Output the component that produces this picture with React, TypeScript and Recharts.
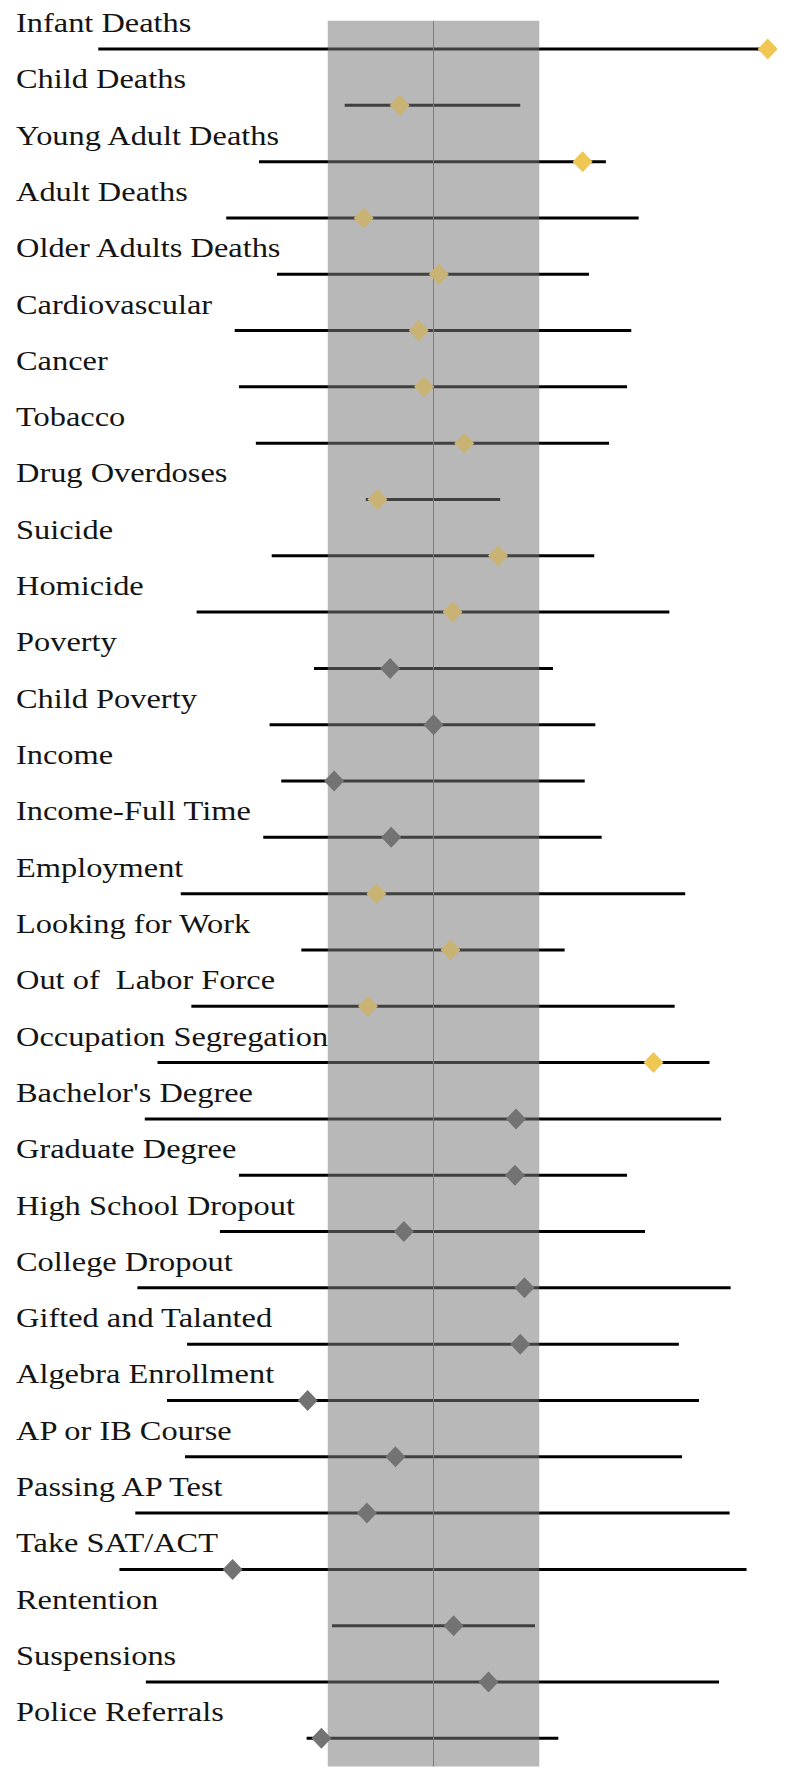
import React from 'react';
import { ScatterChart, Scatter, XAxis, YAxis, ErrorBar, ReferenceArea, ReferenceLine } from 'recharts';

const categories = [
  'Infant Deaths', 'Child Deaths', 'Young Adult Deaths', 'Adult Deaths', 'Older Adults Deaths',
  'Cardiovascular', 'Cancer', 'Tobacco', 'Drug Overdoses', 'Suicide', 'Homicide',
  'Poverty', 'Child Poverty', 'Income', 'Income-Full Time', 'Employment', 'Looking for Work',
  'Out of  Labor Force', 'Occupation Segregation', "Bachelor's Degree", 'Graduate Degree',
  'High School Dropout', 'College Dropout', 'Gifted and Talanted', 'Algebra Enrollment',
  'AP or IB Course', 'Passing AP Test', 'Take SAT/ACT', 'Rentention', 'Suspensions', 'Police Referrals',
];

const estimates = [
  3.16, -0.32, 1.41, -0.66, 0.05,
  -0.14, -0.09, 0.29, -0.53, 0.61, 0.18,
  -0.41, 0.0, -0.94, -0.4, -0.54, 0.16,
  -0.62, 2.08, 0.78, 0.77,
  -0.28, 0.86, 0.82, -1.19,
  -0.36, -0.63, -1.9, 0.19, 0.52, -1.06,
];

const lows = [
  -3.17, -0.84, -1.65, -1.96, -1.48,
  -1.88, -1.84, -1.68, -0.64, -1.53, -2.24,
  -1.13, -1.55, -1.44, -1.61, -2.39, -1.25,
  -2.29, -2.61, -2.73, -1.84,
  -2.02, -2.8, -2.33, -2.52,
  -2.35, -2.82, -2.97, -0.96, -2.72, -1.2,
];

const highs = [
  3.16, 0.82, 1.63, 1.94, 1.47,
  1.87, 1.83, 1.66, 0.63, 1.52, 2.23,
  1.13, 1.53, 1.43, 1.59, 2.38, 1.24,
  2.28, 2.61, 2.72, 1.83,
  2.0, 2.81, 2.32, 2.51,
  2.35, 2.8, 2.96, 0.96, 2.7, 1.18,
];

const groups = [
  'health', 'health', 'health', 'health', 'health',
  'health', 'health', 'health', 'health', 'health', 'health',
  'economic', 'economic', 'economic', 'economic', 'labor', 'labor',
  'labor', 'labor', 'education', 'education',
  'education', 'education', 'education', 'education',
  'education', 'education', 'education', 'education', 'education', 'education',
];

const bandLow = -1;
const bandHigh = 1;

const data = categories.map((name, i) => ({
  name,
  x: estimates[i],
  err: [estimates[i] - lows[i], highs[i] - estimates[i]],
  group: groups[i],
}));

const goldGroups = ['health', 'labor'];

const Diamond = (props: any) => {
  const { cx, cy, payload } = props;
  if (cx == null || cy == null) return <g />;
  const gold = goldGroups.includes(payload.group);
  const outside = payload.x > bandHigh || payload.x < bandLow;
  const fill = gold ? (outside ? '#F0C752' : '#C9B374') : '#737373';
  const rx = 10;
  const ry = 10.5;
  return (
    <polygon
      points={`${cx},${cy - ry} ${cx + rx},${cy} ${cx},${cy + ry} ${cx - rx},${cy}`}
      fill={fill}
    />
  );
};

const Empty = () => <g />;

const renderLabelTick = (props: any) => {
  const { y, payload, index } = props;
  return (
    <text
      key={`lbl-${index}`}
      transform={`translate(8, ${y - 17}) scale(1.2, 1)`}
      x={0}
      y={0}
      fontFamily="'Liberation Serif', 'Times New Roman', serif"
      fontSize={27}
      fill="#141414"
      textAnchor="start"
      style={{ whiteSpace: 'pre' }}
    >
      {payload.value}
    </text>
  );
};

export default function App() {
  return (
    <div style={{ width: 777, height: 1761 }}>
      <ScatterChart
        width={777}
        height={1761}
        margin={{ top: 12.85, right: 2.5, bottom: 2.5, left: 1.5 }}
        style={{ overflow: 'visible' }}
      >
        <XAxis type="number" dataKey="x" domain={[-4, 3.3]} allowDataOverflow hide />
        <YAxis
          type="category"
          dataKey="name"
          width={1}
          interval={0}
          reversed
          axisLine={false}
          tickLine={false}
          tick={renderLabelTick}
        />
        <Scatter
          data={data}
          dataKey="x"
          shape={<Empty />}
          isAnimationActive={false}
          zIndex={100}
        >
          <ErrorBar
            dataKey="err"
            direction="x"
            width={0}
            stroke="#000000"
            strokeWidth={3}
            isAnimationActive={false}
            zIndex={100}
          />
        </Scatter>
        <ReferenceArea
          x1={bandLow}
          x2={bandHigh}
          fill="#797979"
          fillOpacity={0.53}
          stroke="none"
          ifOverflow="visible"
          zIndex={200}
        />
        <ReferenceLine x={0} stroke="#7c7c7c" strokeWidth={1} zIndex={300} />
        <Scatter
          data={data}
          dataKey="x"
          shape={<Diamond />}
          isAnimationActive={false}
          zIndex={600}
        />
      </ScatterChart>
    </div>
  );
}
